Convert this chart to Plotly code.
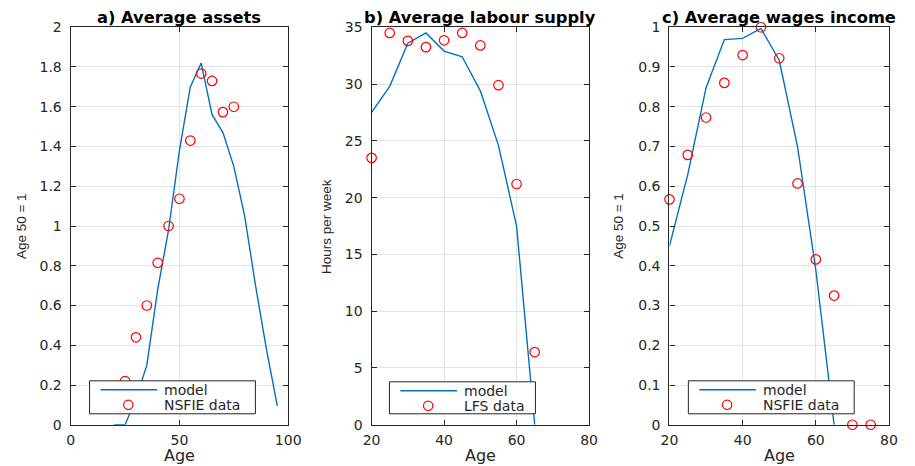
import plotly.graph_objects as go

# ---- data -------------------------------------------------------------
# a) average assets (normalised, age 50 = 1)
assets_model_age = [20, 25, 30, 35, 40, 45, 50, 55, 60, 65, 70, 75, 80, 85, 90, 95]
assets_model = [0, 0, 0.13, 0.30, 0.68, 0.98, 1.38, 1.70, 1.82, 1.56, 1.47, 1.30,
                1.05, 0.70, 0.38, 0.095]
assets_data_age = [25, 30, 35, 40, 45, 50, 55, 60, 65, 70, 75]
assets_data = [0.22, 0.44, 0.60, 0.815, 1.0, 1.137, 1.43, 1.767, 1.73, 1.573, 1.60]

# b) average labour supply (hours per week)
hours_model_age = [20, 25, 30, 35, 40, 45, 50, 55, 60, 65]
hours_model = [27.5, 29.8, 33.6, 34.5, 32.9, 32.4, 29.4, 24.6, 17.5, 0]
hours_data_age = [20, 25, 30, 35, 40, 45, 50, 55, 60, 65]
hours_data = [23.5, 34.5, 33.8, 33.25, 33.85, 34.5, 33.4, 29.9, 21.2, 6.4]

# c) average wage income (normalised, age 50 = 1)
wage_model_age = [20, 25, 30, 35, 40, 45, 50, 55, 60, 65]
wage_model = [0.45, 0.63, 0.848, 0.969, 0.972, 0.997, 0.917, 0.70, 0.39, 0.0]
wage_data_age = [20, 25, 30, 35, 40, 45, 50, 55, 60, 65, 70, 75]
wage_data = [0.567, 0.679, 0.773, 0.86, 0.930, 1.0, 0.922, 0.607, 0.416, 0.325, 0, 0]

titles = ["a) Average assets", "b) Average labour supply", "c) Average wages income"]
y_titles = ["Age 50 = 1", "Hours per week", "Age 50 = 1"]
model_name = "model"
data_names = ["NSFIE data", "LFS data", "NSFIE data"]

# ---- styling ----------------------------------------------------------
W, H = 915, 466
BODY = 8                       # page margin around the figure div
VIEW_W, VIEW_H = 931, 482      # full page extent (figure + margins)
BLUE = "#0072BD"
RED = "#FF0000"
AX = "#262626"
GRID = "#E3E3E3"
WIDE = "DejaVu Sans, Verdana, sans-serif"
PLAIN = "Liberation Sans, Arial, sans-serif"

# layout positions are given on a 915x466 canvas; px/py turn them into
# paper fractions of the figure as it sits on the page
x_px = [(70, 289), (373, 592), (673, 894)]
top_px, bot_px = 27, 425

# legend boxes: (left, right, top, bottom)
legend_px = [(89, 256, 381, 414), (391, 538, 382, 414), (692, 859, 381, 414)]

panels = [
    (assets_model_age, assets_model, assets_data_age, assets_data,
     [0, 100], [0, 50, 100], [0, 2], 0.2),
    (hours_model_age, hours_model, hours_data_age, hours_data,
     [20, 80], [20, 40, 60, 80], [0, 35], 5),
    (wage_model_age, wage_model, wage_data_age, wage_data,
     [20, 80], [20, 40, 60, 80], [0, 1], 0.1),
]


def px(x):
    return (x * VIEW_W / W - BODY) / W


def py(y):
    return 1 - (y * VIEW_H / H - BODY) / H


ydom = [py(bot_px), py(top_px)]

fig = go.Figure()
annotations = []
shapes = []
layout_axes = {}

for i, (mx, my, dx, dy, xr, xt, yr, ydt) in enumerate(panels):
    k = "" if i == 0 else str(i + 1)
    fig.add_trace(go.Scatter(
        x=mx, y=my, mode="lines", name=model_name,
        line=dict(color=BLUE, width=1.4),
        xaxis=f"x{k}", yaxis=f"y{k}", showlegend=False,
    ))
    fig.add_trace(go.Scatter(
        x=dx, y=dy, mode="markers", name=data_names[i],
        marker=dict(symbol="circle-open", size=9.5, color=RED,
                    line=dict(color=RED, width=1.2)),
        xaxis=f"x{k}", yaxis=f"y{k}", showlegend=False, cliponaxis=False,
    ))

    l, r = x_px[i]
    common = dict(
        showline=True, linecolor=AX, linewidth=1.3, mirror="ticks",
        ticks="inside", ticklen=5, tickcolor=AX, tickwidth=1,
        showgrid=True, gridcolor=GRID, gridwidth=1, zeroline=False,
        tickfont=dict(family=WIDE, size=14, color=AX),
    )
    layout_axes[f"xaxis{k}"] = dict(
        domain=[px(l), px(r)], range=xr, tickvals=xt,
        anchor=f"y{k}", ticklabelstandoff=2, **common,
    )
    layout_axes[f"yaxis{k}"] = dict(
        domain=ydom, range=yr, dtick=ydt, tick0=0,
        anchor=f"x{k}", ticklabelstandoff=5, **common,
    )

    cx = (l + r) / 2
    annotations.append(dict(
        text=f"<b>{titles[i]}</b>", x=px(cx), y=py(17),
        xref="paper", yref="paper", showarrow=False,
        font=dict(family=WIDE, size=16.3, color="black"),
        xanchor="center", yanchor="middle",
    ))
    annotations.append(dict(
        text="Age", x=px(cx), y=py(456),
        xref="paper", yref="paper", showarrow=False,
        font=dict(family=WIDE, size=16, color=AX),
        xanchor="center", yanchor="middle",
    ))
    yl_x = [20, 327, 621][i]
    annotations.append(dict(
        text=y_titles[i], x=px(yl_x), y=py((top_px + bot_px) / 2),
        xref="paper", yref="paper", showarrow=False, textangle=-90,
        font=dict(family=PLAIN, size=13.5, color=AX),
        xanchor="center", yanchor="middle",
    ))

    # legend box with a line sample and a circle sample
    ll, lr, lt, lb = legend_px[i]
    shapes.append(dict(
        type="rect", xref="paper", yref="paper",
        x0=px(ll), x1=px(lr), y0=py(lb), y1=py(lt),
        line=dict(color=AX, width=1), fillcolor="white", layer="above",
    ))
    row1 = lt + 9
    row2 = lt + 24
    shapes.append(dict(
        type="line", xref="paper", yref="paper",
        x0=px(ll + 11), x1=px(ll + 68), y0=py(row1), y1=py(row1),
        line=dict(color=BLUE, width=1.4), layer="above",
    ))
    cxm = ll + 39
    shapes.append(dict(
        type="circle", xref="paper", yref="paper",
        x0=px(cxm - 4.7), x1=px(cxm + 4.7), y0=py(row2 + 4.7), y1=py(row2 - 4.7),
        line=dict(color=RED, width=1.2), layer="above",
    ))
    for txt, ry in ((model_name, row1), (data_names[i], row2)):
        annotations.append(dict(
            text=txt, x=px(ll + 73), y=py(ry),
            xref="paper", yref="paper", showarrow=False,
            font=dict(family=WIDE, size=14, color=AX),
            xanchor="left", yanchor="middle",
        ))

fig.update_layout(
    width=W, height=H,
    margin=dict(l=0, r=0, t=0, b=0),
    paper_bgcolor="white", plot_bgcolor="white",
    showlegend=False,
    annotations=annotations,
    shapes=shapes,
    **layout_axes,
)

fig.write_html("out.html")
